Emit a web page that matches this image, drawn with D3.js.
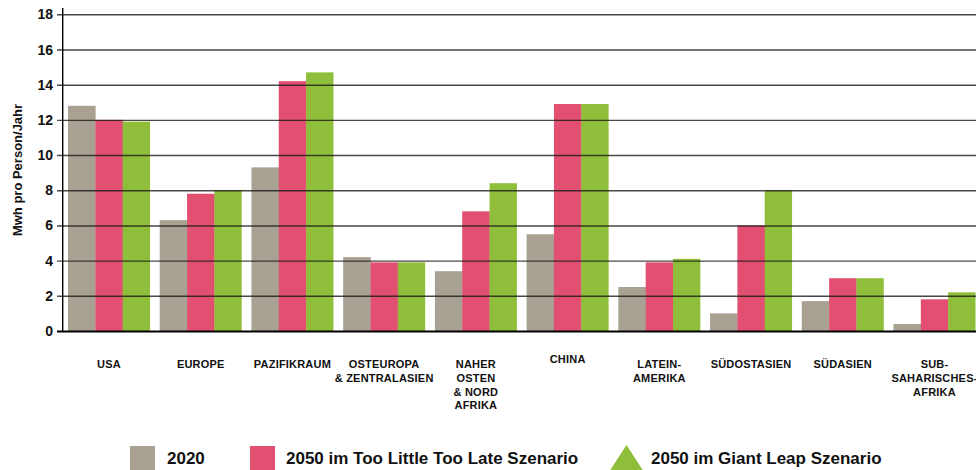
<!DOCTYPE html>
<html><head><meta charset="utf-8">
<script src="https://cdn.jsdelivr.net/npm/d3@7"></script>
<style>body{margin:0;background:#fff}svg{display:block;font-family:"Liberation Sans",Arial,sans-serif;font-weight:bold}</style>
</head><body><svg id="c" width="976" height="470"></svg>
<script>
const categories = [
  ["USA"], ["EUROPE"], ["PAZIFIKRAUM"], ["OSTEUROPA","& ZENTRALASIEN"],
  ["NAHER","OSTEN","& NORD","AFRIKA"], ["CHINA"], ["LATEIN-","AMERIKA"],
  ["SÜDOSTASIEN"], ["SÜDASIEN"], ["SUB-","SAHARISCHES-","AFRIKA"]
];
const series = ["2020", "2050 im Too Little Too Late Szenario", "2050 im Giant Leap Szenario"];
const values2020 = [12.8, 6.3, 9.3, 4.2, 3.4, 5.5, 2.5, 1.0, 1.7, 0.4];
const valuesTooLate = [12.0, 7.8, 14.2, 3.9, 6.8, 12.9, 3.9, 6.0, 3.0, 1.8];
const valuesGiantLeap = [11.9, 8.0, 14.7, 3.9, 8.4, 12.9, 4.1, 8.0, 3.0, 2.2];
const yTicks = [0, 2, 4, 6, 8, 10, 12, 14, 16, 18];
const yTitle = "Mwh pro Person/Jahr";

const colors = ["#a9a292", "#e24f71", "#8fbf3a"];
const data = [values2020, valuesTooLate, valuesGiantLeap];
const svg = d3.select("#c");

const keys = categories.map(c => c.join(" "));
const x = d3.scaleBand().domain(keys).range([68, 975.5]).paddingInner(0.106).paddingOuter(0);
const xs = d3.scaleBand().domain(d3.range(3)).range([0, x.bandwidth()]);
const y = d3.scaleLinear().domain([0, 18]).range([331, 14.3]);

// bars
keys.forEach((k, i) => {
  data.forEach((vals, s) => {
    svg.append("rect")
      .attr("x", x(k) + xs(s))
      .attr("y", y(vals[i]))
      .attr("width", xs.bandwidth() + (s < 2 ? 0.3 : 0))
      .attr("height", y(0) - y(vals[i]))
      .attr("fill", colors[s]);
  });
});

// gridlines
const yAxis = d3.axisLeft(y).tickValues(yTicks).tickSize(-(976 - 57)).tickFormat("");
const ga = svg.append("g").attr("transform", "translate(57,0)").call(yAxis);
ga.select(".domain").remove();
ga.selectAll(".tick line").attr("stroke", "#1a1a1a").attr("stroke-width", 1.4).attr("stroke-opacity", 0.8)
  .attr("x1", 0).attr("x2", 976 - 57);
ga.selectAll(".tick").filter(d => d === 0).select("line").attr("stroke-width", 2).attr("stroke-opacity", 1).attr("stroke", "#000");

// tick labels
svg.append("g").selectAll("text").data(yTicks).join("text")
  .attr("x", 53).attr("y", d => y(d)).attr("dy", "0.36em")
  .attr("text-anchor", "end").attr("font-size", 14).attr("fill", "#111")
  .text(d => d);

// y axis line
svg.append("line").attr("x1", 62.7).attr("x2", 62.7).attr("y1", 8).attr("y2", 332)
  .attr("stroke", "#000").attr("stroke-width", 1.4);

// y title
svg.append("text").attr("transform", "translate(22,170) rotate(-90)")
  .attr("text-anchor", "middle").attr("font-size", 13).attr("fill", "#111").text(yTitle);

// x labels
categories.forEach((lines, i) => {
  const cx = x(keys[i]) + x.bandwidth() / 2;
  const top = lines[0] === "CHINA" ? 363 : 368;
  const t = svg.append("text").attr("text-anchor", "middle").attr("font-size", 11)
    .attr("letter-spacing", 0.2).attr("fill", "#111");
  lines.forEach((l, j) => t.append("tspan").attr("x", cx).attr("y", top + j * 13.8).text(l));
});

// legend
const lg = svg.append("g");
lg.append("rect").attr("x", 130).attr("y", 446).attr("width", 25).attr("height", 25).attr("fill", colors[0]);
lg.append("rect").attr("x", 250).attr("y", 446).attr("width", 25).attr("height", 25).attr("fill", colors[1]);
lg.append("path").attr("d", d3.line()([[609, 472], [626.5, 445], [644, 472]])).attr("fill", colors[2]);
const lx = [167, 286, 651];
series.forEach((s, i) => lg.append("text").attr("x", lx[i]).attr("y", 464).attr("font-size", 17).attr("fill", "#111").text(s));
</script></body></html>
